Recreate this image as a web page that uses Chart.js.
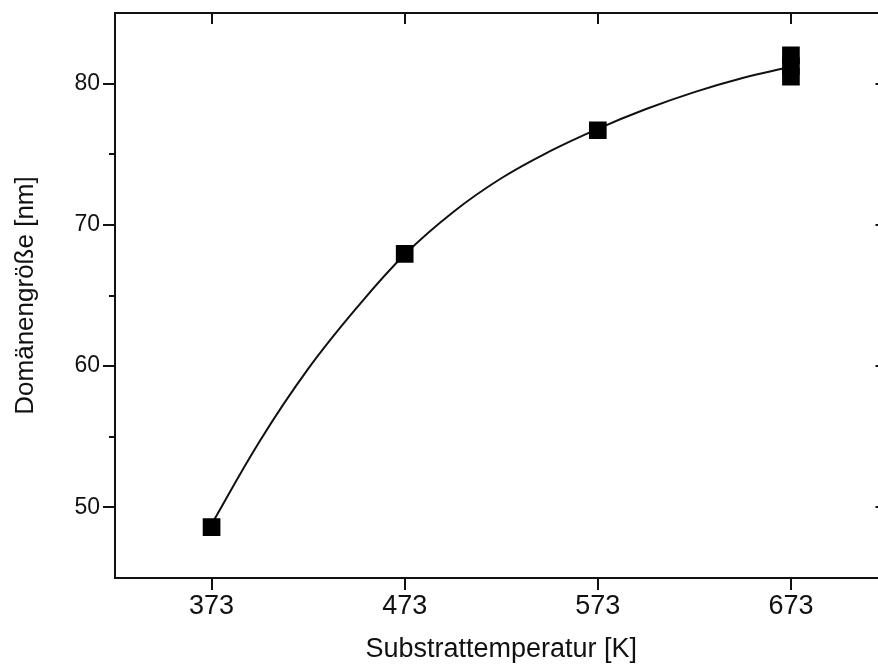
<!DOCTYPE html>
<html>
<head>
<meta charset="utf-8">
<script src="https://cdn.jsdelivr.net/npm/chart.js@4/dist/chart.umd.min.js"></script>
<style>
    html, body { margin: 0; padding: 0; background: #fff; overflow: hidden; }
    canvas { display: block; }
</style>
</head>
<body>
<canvas id="grafico" width="900" height="668"></canvas>
<script>
// Messpunkte
const temperatur = [373, 473, 573, 673, 673, 673];
const domaene = [48.6, 67.95, 76.7, 82.0, 81.25, 80.5];

// Fitkurve
const fitTemperatur = [373, 398, 423, 448, 473, 498, 523, 548, 573, 598, 623, 648, 673];
const fitDomaene = [48.8, 54.7, 59.8, 64.1, 67.9, 70.9, 73.3, 75.2, 76.8, 78.2, 79.4, 80.4, 81.2];

// Achsen
const xTicks = [373, 473, 573, 673];
const yTicks = [50, 60, 70, 80];
const yMinorTicks = [55, 65, 75];

const schrift = "'Liberation Sans', Arial, sans-serif";
const farbe = '#111';

// Rahmen oben/rechts und Tickmarken
const rahmenPlugin = {
    id: 'rahmen',
    afterDraw(chart) {
        const ctx = chart.ctx;
        const a = chart.chartArea;
        const x = chart.scales.x;
        const y = chart.scales.y;
        ctx.save();
        ctx.strokeStyle = farbe;
        ctx.lineWidth = 2;
        ctx.beginPath();
        ctx.moveTo(a.left - 1, a.top);
        ctx.lineTo(a.right, a.top);
        ctx.lineTo(a.right, a.bottom);
        ctx.stroke();

        ctx.beginPath();
        xTicks.forEach(function (v) {
            const px = Math.round(x.getPixelForValue(v));
            ctx.moveTo(px, a.bottom);
            ctx.lineTo(px, a.bottom + 12);
            ctx.moveTo(px, a.top);
            ctx.lineTo(px, a.top + 11);
        });
        yTicks.forEach(function (v) {
            const py = Math.round(y.getPixelForValue(v));
            ctx.moveTo(a.left, py);
            ctx.lineTo(a.left - 12, py);
            ctx.moveTo(a.right, py);
            ctx.lineTo(a.right - 12, py);
        });
        yMinorTicks.forEach(function (v) {
            const py = Math.round(y.getPixelForValue(v));
            ctx.moveTo(a.left, py);
            ctx.lineTo(a.left - 6, py);
            ctx.moveTo(a.right, py);
            ctx.lineTo(a.right - 6, py);
        });
        ctx.stroke();
        ctx.restore();
    }
};

window.addEventListener('load', function () {
    const ctx = document.getElementById('grafico');

    new Chart(ctx, {
        type: 'scatter',
        data: {
            datasets: [{
                order: 1,
                data: temperatur.map(function (t, i) { return { x: t, y: domaene[i] }; }),
                showLine: false,
                pointStyle: 'rect',
                pointRadius: 12.5,
                pointBorderWidth: 0,
                pointBackgroundColor: '#000',
                pointBorderColor: '#000'
            }, {
                order: 2,
                type: 'line',
                data: fitTemperatur.map(function (t, i) { return { x: t, y: fitDomaene[i] }; }),
                borderColor: farbe,
                borderWidth: 2,
                pointRadius: 0,
                fill: false,
                tension: 0.4
            }]
        },
        options: {
            responsive: false,
            animation: false,
            devicePixelRatio: 1,
            layout: {
                padding: { top: 13, right: 11, left: 0, bottom: 0 }
            },
            plugins: {
                legend: { display: false },
                tooltip: { enabled: false }
            },
            scales: {
                x: {
                    type: 'linear',
                    min: 323,
                    max: 723,
                    afterBuildTicks: function (scale) {
                        scale.ticks = xTicks.map(function (v) { return { value: v }; });
                    },
                    afterFit: function (scale) {
                        scale.height = 90;
                        scale.paddingLeft = 0;
                        scale.paddingRight = 0;
                    },
                    grid: { display: false, drawTicks: false },
                    border: { display: true, color: farbe, width: 2 },
                    ticks: {
                        color: farbe,
                        padding: 12,
                        maxRotation: 0,
                        font: { family: schrift, size: 27 }
                    },
                    title: {
                        display: true,
                        text: 'Substrattemperatur [K]',
                        color: farbe,
                        padding: { top: 0, bottom: 2 },
                        font: { family: schrift, size: 27, lineHeight: 1.2 }
                    }
                },
                y: {
                    min: 45,
                    max: 85,
                    afterBuildTicks: function (scale) {
                        scale.ticks = yTicks.map(function (v) { return { value: v }; });
                    },
                    afterFit: function (scale) {
                        scale.width = 115;
                        scale.paddingTop = 0;
                        scale.paddingBottom = 0;
                    },
                    grid: { display: false, drawTicks: false },
                    border: { display: true, color: farbe, width: 2 },
                    ticks: {
                        color: farbe,
                        padding: 15,
                        font: { family: schrift, size: 23 }
                    },
                    title: {
                        display: true,
                        text: 'Domänengröße [nm]',
                        color: farbe,
                        padding: { top: 10, bottom: 0 },
                        font: { family: schrift, size: 26, lineHeight: 1.2 }
                    }
                }
            }
        },
        plugins: [rahmenPlugin]
    });
});
</script>
</body>
</html>
